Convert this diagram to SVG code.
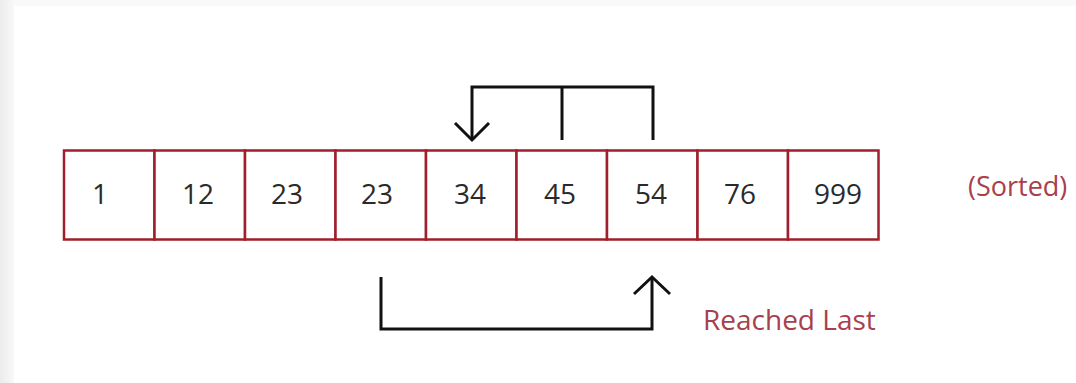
<svg xmlns="http://www.w3.org/2000/svg" width="1076" height="383" viewBox="0 0 1076 383">
<defs>
<linearGradient id="lg" x1="0" y1="0" x2="1" y2="0">
<stop offset="0" stop-color="#ececec"/>
<stop offset="1" stop-color="#f8f8f8"/>
</linearGradient>
</defs>
<style>
.cell{fill:#ffffff;stroke:#a11f2c;stroke-width:2.5}
.num{font-family:"Open Sans","Liberation Sans",sans-serif;font-size:28px;fill:#2a2a2a}
.lbl{font-family:"Open Sans","Liberation Sans",sans-serif;font-size:28px;fill:#a8404c}
.con{fill:none;stroke:#111111;stroke-width:3;stroke-linejoin:miter;stroke-linecap:butt}
</style>
<rect x="0" y="0" width="1076" height="383" fill="#f9f9f9"/>
<rect x="0" y="0" width="14" height="383" fill="url(#lg)"/>
<rect x="14" y="6" width="1062" height="377" fill="#ffffff"/>
<g id="cell-0"><rect class="cell" x="64" y="150.5" width="90.5" height="89"/><text class="num" x="92" y="204">1</text></g>
<g id="cell-1"><rect class="cell" x="154.5" y="150.5" width="90.5" height="89"/><text class="num" x="182" y="204">12</text></g>
<g id="cell-2"><rect class="cell" x="245" y="150.5" width="90.5" height="89"/><text class="num" x="271" y="204">23</text></g>
<g id="cell-3"><rect class="cell" x="335.5" y="150.5" width="90.5" height="89"/><text class="num" x="361" y="204">23</text></g>
<g id="cell-4"><rect class="cell" x="426" y="150.5" width="90.5" height="89"/><text class="num" x="454" y="204">34</text></g>
<g id="cell-5"><rect class="cell" x="516.5" y="150.5" width="90.5" height="89"/><text class="num" x="544" y="204">45</text></g>
<g id="cell-6"><rect class="cell" x="607" y="150.5" width="90.5" height="89"/><text class="num" x="635" y="204">54</text></g>
<g id="cell-7"><rect class="cell" x="697.5" y="150.5" width="90.5" height="89"/><text class="num" x="724" y="204">76</text></g>
<g id="cell-8"><rect class="cell" x="788" y="150.5" width="90.5" height="89"/><text class="num" x="814" y="204">999</text></g>
<g id="label-sorted"><text class="lbl" x="968" y="196" style="font-size:27px">(Sorted)</text></g>
<g id="label-reached"><text class="lbl" x="703" y="330">Reached Last</text></g>
<g id="connectors">
<path class="con" d="M472,140 V87 H653 V140"/>
<path class="con" d="M562,87 V140"/>
<path class="con" d="M455,123 L472,140 L489,123"/>
<path class="con" d="M381,277 V329 H652 V277"/>
<path class="con" d="M634,294 L652,277 L670,294"/>
</g>
</svg>
